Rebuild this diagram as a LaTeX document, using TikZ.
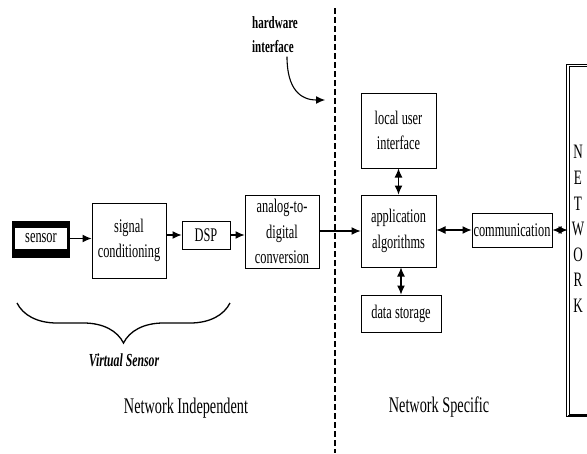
\documentclass[tikz,border=0pt]{standalone}
\usepackage{fontspec}
\setmainfont{Liberation Serif}[FakeStretch=0.64]
\usetikzlibrary{arrows.meta, decorations.pathreplacing}

\begin{document}
\begin{tikzpicture}[x=1pt, y=-1pt, >={Latex[length=9pt, width=8pt]},
                       blk/.style  = {draw, line width=1pt, align=center, inner sep=0pt,
                                      font=\fontsize{19.3}{25.5}\selectfont},
                       lbl/.style  = {font=\fontsize{22.3}{26}\selectfont},
                       link/.style = {line width=1.1pt}
                      ]
     \useasboundingbox (0,0) rectangle (587,453);

     % sensor chain
     \fill (12,221) rectangle (70,258);
     \node[blk, draw=none, fill=white, minimum width=52pt, minimum height=21pt] (sensor) at (41,238.5) {sensor};
     \node[blk, minimum width=74pt, minimum height=75pt] (sigcond) at (129,240.5) {signal\\conditioning};
     \node[blk, minimum width=48pt, minimum height=28pt] (dsp) at (206,235) {DSP};
     \node[blk, minimum width=74pt, minimum height=73pt] (adc) at (282,231.5) {analog-to-\\digital\\conversion};

     \node[blk, minimum width=75pt, minimum height=72pt] (app) at (398.5,231) {application\\algorithms};
     \node[blk, minimum width=75pt, minimum height=75pt] (lui) at (398.5,130.5) {local user\\interface};
     \node[blk, minimum width=80pt, minimum height=37pt] (store) at (401,313.5) {data storage};
     \node[blk, minimum width=80pt, minimum height=34pt] (comm) at (512,230) {communication};

     \node[draw, double, line width=.8pt, double distance=1.6pt, minimum width=45pt,
           minimum height=350pt, anchor=north west] (net) at (567.5,65) {};
     \draw[line width=2.5pt] (net.south west) -- (net.south east);
     \foreach \ch [count=\i] in {N,E,T,W,O,R,K}
         \node[lbl, font=\fontsize{20.5}{24}\selectfont] (net\i) at (578,126.5+25.6*\i) {\ch};

     \draw[->, link] (sensor.east -| 70,0) -- (sensor.east -| sigcond.west);
     \draw[->, link] (sigcond.east |- dsp) -- (dsp.west);
     \draw[->, link] (dsp.east) -- (dsp.east -| adc.west);
     \draw[->, link] (adc.east |- app) -- (app.west);
     \draw[<->, link] (app.north) -- (lui.south);
     \draw[<->, link] (app.south -| store.north) -- (store.north);
     \draw[<->, link] (app.east |- comm) -- (comm.west);
     \draw[<->, link] (comm.east) -- (comm.east -| net.west);

     % hardware boundary
     \draw[line width=1.3pt, dash pattern=on 6pt off 3pt] (335,8) -- (335,453);
     \node[font=\fontsize{17.2}{24}\bfseries, align=left] (hw) at (275,35) {hardware\\interface};
     \coordinate (hwtip) at (325,100);
     \draw[->, link] ([xshift=12pt]hw.south) .. controls +(0,32) and +(-25,0) .. (hwtip);

     % virtual sensor brace
     \draw[line width=1.3pt, decorate, decoration={brace, amplitude=40pt, mirror}] (17,303) -- (230,303);
     \node[font=\fontsize{18.4}{20}\bfseries\itshape] (virt) at (124,360) {Virtual Sensor};

     \node[lbl] (indep) at (186,408) {Network Independent};
     \node[lbl] (spec) at (439,407) {Network Specific};

   \end{tikzpicture}
\end{document}
